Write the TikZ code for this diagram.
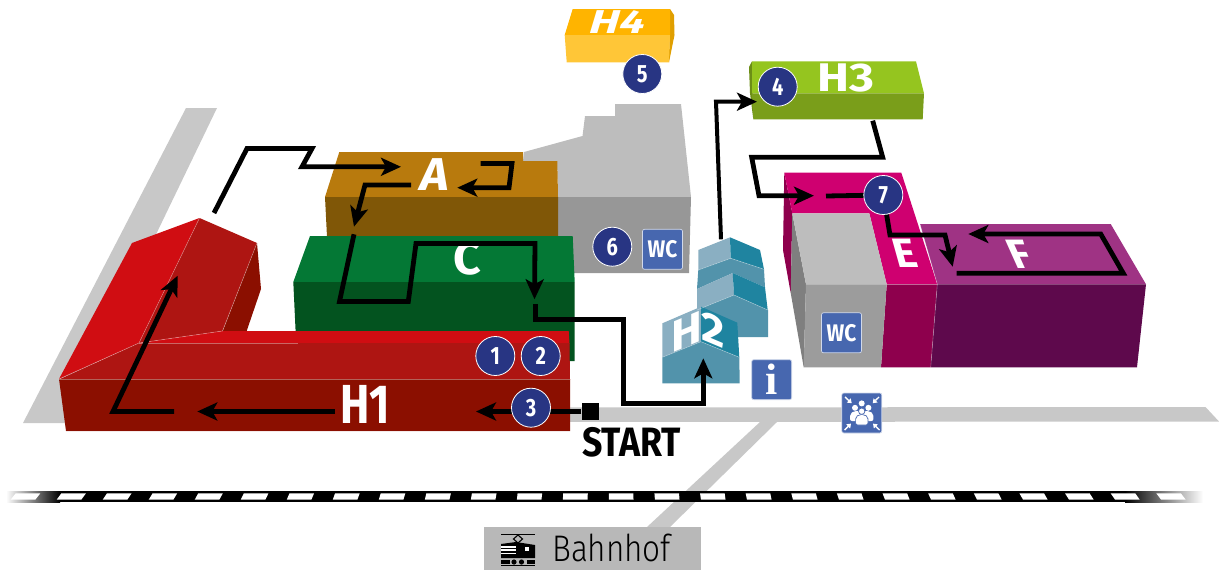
\documentclass[tikz,border=0pt]{standalone}
\usepackage{fontspec}
\usetikzlibrary{arrows.meta}
\newfontfamily\dinf{Fira Sans}[FakeStretch=0.8]
\newfontfamily\dinm{Fira Sans}[FakeStretch=0.87]
\newfontfamily\wfa{Fira Sans}[FakeStretch=1.05]
\newfontfamily\wfb{Fira Sans}[FakeStretch=1.2]
\newfontfamily\wfc{Fira Sans}[FakeStretch=1.35]
\newfontfamily\thinf{Fira Sans Light}[FakeStretch=0.85]
\newfontfamily\serifb{Liberation Serif}
\definecolor{road}{HTML}{C8C8C8}
\definecolor{grayT}{HTML}{BDBDBD}
\definecolor{grayF}{HTML}{979797}
\definecolor{grayG}{HTML}{9C9C9C}
\definecolor{grayS}{HTML}{7F7F7F}
\definecolor{brownT}{HTML}{B87A0D}
\definecolor{brownF}{HTML}{805707}
\definecolor{greenT}{HTML}{047835}
\definecolor{greenF}{HTML}{03531F}
\definecolor{redB}{HTML}{D00D12}
\definecolor{redM}{HTML}{AE1512}
\definecolor{redD}{HTML}{8B0F00}
\definecolor{yelT}{HTML}{FFB400}
\definecolor{yelF}{HTML}{FFC637}
\definecolor{yelS}{HTML}{E09F00}
\definecolor{limeT}{HTML}{95C51F}
\definecolor{limeF}{HTML}{7A9E1A}
\definecolor{limeS}{HTML}{6C8E16}
\definecolor{magT}{HTML}{CF0070}
\definecolor{magF}{HTML}{8E004D}
\definecolor{purT}{HTML}{9F3384}
\definecolor{purF}{HTML}{5E094C}
\definecolor{hLight}{HTML}{8AAFC2}
\definecolor{hTeal}{HTML}{1F84A0}
\definecolor{hMid}{HTML}{5293AB}
\definecolor{navy}{HTML}{283583}
\definecolor{signblue}{HTML}{4767AF}
\definecolor{station}{HTML}{B8B8B8}
\tikzset{
  routeplain/.style={line width=4.8pt,line join=miter,black},
  routetip/.style={routeplain,-{Stealth[length=20pt,width=18pt,inset=5pt]}},
  edgeline/.style={white,opacity=.35,line width=.6pt},
  badge/.style={circle,fill=navy,draw=white,line width=.8pt,minimum size=39pt,inner sep=0pt,text=white,font=\dinf\bfseries\fontsize{25}{25}\selectfont},
  sign/.style={rectangle,rounded corners=2pt,fill=signblue,draw=white!75!signblue,line width=.7pt,minimum size=40pt,inner sep=0pt,text=white},
  wclabel/.style={sign,font=\dinm\bfseries\fontsize{24}{24}\selectfont},
  hlabel/.style 2 args={inner sep=0pt,text=white,font=#1\bfseries\fontsize{#2}{#2}\selectfont},
}
\begin{document}
\begin{tikzpicture}[x=1pt,y=-1pt]
\useasboundingbox (0,0) rectangle (1219,570);
% roads
\fill[road] (186,108) -- (217,108) -- (65,423) -- (23,423) -- cycle;
\fill[road] (560,407.5) -- (1205.5,407) -- (1219,421.5) -- (560,422) -- cycle;
\fill[road] (760,422) -- (777,422) -- (670,527) -- (647,527) -- cycle;
% rail
\fill[black] (60,491) rectangle (1125,502);
\shade[left color=white,right color=black] (6,491) rectangle (60,502);
\shade[left color=black,right color=white] (1125,491) rectangle (1203,502);
\foreach \i in {0,...,25}{
  \pgfmathsetmacro{\xc}{25.5+45.82*\i}
  \pgfmathsetmacro{\sl}{(\xc-610)/600*2.6}
  \fill[white] ({\xc-12.3-\sl},493.3) -- ({\xc+12.3-\sl},493.3) -- ({\xc+12.3+\sl},499.7) -- ({\xc-12.3+\sl},499.7) -- cycle;
}
% station box
\fill[station] (484,526.5) rectangle (701,570);
\node[inner sep=0pt,anchor=base west,font=\thinf\fontsize{37}{37}\selectfont] (bahnhof) at (552,561) {Bahnhof};
% train icon
\draw[black,line width=1pt] (501,534.5) -- (535,534.5);
\draw[black,line width=1.1pt] (518,535) -- (522.5,539) -- (518,543) -- (513.5,539) -- cycle;
\fill[black] (516,542) -- (535,545) -- (535,558) -- (501,558) -- (501,544) -- cycle;
\foreach \yy in {546.2,549.4,552.6}{\fill[white] (501,\yy) rectangle (516,\yy+1.3);}
\fill[white] (525,547) rectangle (529,551);
\fill[black] (501,559.5) rectangle (510,564);
\fill[black] (527,559.5) rectangle (535,564);
\fill[black] (514,562) circle (2.6);
\fill[black] (521.5,562) circle (2.6);
\draw[black,line width=1pt] (501,565.8) -- (535,565.8);
% gray building 6
\fill[grayT] (524,152) -- (582.5,136) -- (585,116) -- (615,116) -- (615,104) -- (681,104) -- (691,197) -- (558,197) -- (557,161) -- (523,161) -- cycle;
\fill[grayF] (558,197) -- (691,197) -- (689,273) -- (558,273) -- cycle;
% A
\fill[brownT] (339.3,152) -- (523,152) -- (523,161) -- (557.3,161) -- (558,197) -- (325,197) -- cycle;
\fill[brownF] (325,197) -- (558,197) -- (558,237) -- (327,237) -- cycle;
% C
\fill[greenT] (310,236) -- (572.7,236) -- (574.7,282) -- (293.3,282) -- cycle;
\fill[greenF] (293.3,282) -- (574.7,282) -- (574.7,361) -- (297,361) -- cycle;
% H1
\fill[redB] (59,379) -- (139,343) -- (199.5,218) -- (132,243) -- cycle;
\fill[redM] (139,343) -- (222.5,331) -- (257,243) -- (199.5,218) -- cycle;
\fill[redD] (257,243) -- (261,289) -- (246.5,331.5) -- (222.5,331.5) -- cycle;
\fill[redB] (139,343) -- (222.5,331) -- (568.7,331) -- (569.5,343.5) -- cycle;
\fill[redM] (139,343) -- (569.5,343) -- (570,379.5) -- (59,379.5) -- cycle;
\fill[redD] (59,379) -- (570,379) -- (570,431) -- (66,431) -- cycle;
\draw[edgeline] (139,343) -- (199.5,218);
\draw[edgeline] (222.5,331) -- (257,243);
\draw[edgeline] (59,379) -- (139,343) -- (222.5,331);
\draw[edgeline] (139,343) -- (298,343);
\draw[edgeline] (59,379) -- (570,379);
\draw[edgeline] (66,431) -- (570,431);
% H4
\fill[yelS] (670,9) -- (674,15) -- (674.5,35) -- (669,62.3) -- cycle;
\fill[yelT] (572.7,9) -- (670,9) -- (670,35) -- (564.7,35) -- cycle;
\fill[yelF] (564.7,35) -- (670,35) -- (669,62.3) -- (566.7,62.3) -- cycle;
% H3
\fill[limeS] (752,61.3) -- (749,67) -- (750,93) -- (753.3,119.3) -- cycle;
\fill[limeT] (752,61.3) -- (916,61.3) -- (924,93.3) -- (752,93.3) -- cycle;
\fill[limeF] (752,93.3) -- (924,93.3) -- (922.7,119.3) -- (753.3,119.3) -- cycle;
% E
\fill[magF] (784.3,172.7) -- (783,250) -- (790.7,293) -- (792.3,213.3) -- cycle;
\fill[magT] (784.3,172.7) -- (901.3,172.7) -- (937.3,284.3) -- (886.7,284.3) -- (869.3,213.3) -- (792.3,213.3) -- cycle;
\fill[magF] (886.7,284.3) -- (937.3,284.3) -- (930.7,367.3) -- (881,367.3) -- cycle;
% WC building
\fill[grayS] (792.3,213.3) -- (806,284.3) -- (803.7,367.3) -- (790.7,293) -- cycle;
\fill[grayT] (792.3,213.3) -- (869.3,213.3) -- (886.7,284.3) -- (806,284.3) -- cycle;
\fill[grayG] (806,284.3) -- (886.7,284.3) -- (881,367.3) -- (803.7,367.3) -- cycle;
% F
\fill[purT] (920,224) -- (1110.7,224) -- (1146,284.3) -- (937.3,284.3) -- cycle;
\fill[purF] (937.3,284.3) -- (1146,284.3) -- (1137,367.3) -- (930.7,367.3) -- cycle;
\draw[edgeline] (886.7,284.3) -- (937.3,284.3) -- (930.7,367.3);
\draw[edgeline] (920,224) -- (937.3,284.3);
% H2
\fill[hLight] (698.3,250) -- (730,237.3) -- (730.7,258.3) -- (698.3,270) -- cycle;
\fill[hTeal] (730,237.3) -- (760,250) -- (764,269.3) -- (730.7,258.3) -- cycle;
\fill[hMid] (698.3,270) -- (730.7,258.3) -- (764,269.3) -- (765,287.3) -- (732.7,273) -- (697,289) -- cycle;
\fill[hLight] (697,289) -- (732.7,273) -- (734,295) -- (697,310) -- cycle;
\fill[hTeal] (732.7,273) -- (765,287.3) -- (767.7,310) -- (734,295) -- cycle;
\fill[hMid] (697,310) -- (734,295) -- (768,310) -- (768,337) -- (730,337) -- (697,320) -- cycle;
\fill[hLight] (662.3,323.3) -- (701,306.7) -- (701,341.7) -- (662.3,357.3) -- cycle;
\fill[hTeal] (701,306.7) -- (737.3,322.7) -- (739.3,357.3) -- (701,341.7) -- cycle;
\fill[hMid] (662.3,357.3) -- (701,341.7) -- (739.3,357.3) -- (739.7,383.3) -- (662.3,383.3) -- cycle;
\draw[edgeline] (698.3,270) -- (730.7,258.3) -- (764,269.3);
\draw[edgeline] (697,310) -- (734,295) -- (767.7,310);
\draw[edgeline] (662.3,357.3) -- (701,341.7) -- (739.3,357.3);
% building labels
\node[hlabel={\dinf}{55}] (lH1) at (365,404.5) {H1};
\node[hlabel={\wfa}{46},shift={(435,174.5)},xslant=.15,transform shape] (lA) at (0,0) {A};
\node[hlabel={\wfa}{46}] (lC) at (467,259) {C};
\node[hlabel={\wfc}{33},shift={(618.5,22)},xslant=.3,transform shape] (lH4) at (0,0) {H4};
\node[hlabel={\wfb}{40},] (lH3) at (846,77.5) {H3};
\node[hlabel={\wfa}{41},shift={(905,253.5)},xslant=-.28,transform shape] (lE) at (0,0) {E};
\node[hlabel={\wfa}{41},shift={(1020,254)},xslant=-.45,transform shape] (lF) at (0,0) {F};
\node[hlabel={\wfa}{44},shift={(687,331.5)},yslant=.42,transform shape] (lH2a) at (0,0) {H};
\node[hlabel={\wfa}{43},shift={(713,330)},yslant=-.42,transform shape] (lH2b) at (0,0) {2};
\node[inner sep=0pt,anchor=base west,text=black,font=\dinm\bfseries\fontsize{41}{41}\selectfont] (lstart) at (582,456.5) {START};
% signs
\node[wclabel] (wc1) at (662.5,249.3) {WC};
\node[wclabel] (wc2) at (841.5,332.8) {WC};
\node[sign,font=\serifb\bfseries\fontsize{44}{44}\selectfont] (info) at (771.7,379.7) {i};
\node[sign] (assembly) at (861.8,413) {};
% assembly icon
\fill[white] (861.7,403.4) circle (3);
\fill[white] (855,407.8) circle (3);
\fill[white] (868.4,407.8) circle (3);
\fill[white,rounded corners=2pt] (850,421) -- (850,414) -- (854,411) -- (869.5,411) -- (873.4,414) -- (873.4,421) -- cycle;
\fill[white,draw=signblue,line width=.7pt] (861.7,411.2) circle (3.2);
\fill[white,draw=signblue,line width=.7pt,rounded corners=2pt] (855.6,425) -- (855.6,417) -- (859,414.6) -- (864.4,414.6) -- (868,417) -- (868,425) -- cycle;
\foreach \ax/\ay/\bx/\by in {845/397/851.7/403.2, 879/397/872.7/403.2, 844.5/430/851/423.6, 879.5/430/873/423.6}
  \draw[white,line width=1.4pt,-{Triangle[length=4pt,width=5.5pt]}] (\ax,\ay) -- (\bx,\by);
% route way points
\node[fill=black,minimum size=17pt,inner sep=0pt] (start) at (590,411.5) {};
\coordinate (t3) at (476,411.5);
\coordinate (h1a) at (334.5,411.5);
\coordinate (h1b) at (197.3,411.5);
\coordinate (h1c) at (174,411.5);
\coordinate (h1d) at (113,411.5);
\coordinate (h1e) at (177.7,275.7);
\coordinate (oa) at (214,213);
\coordinate (ob) at (247,148.5);
\coordinate (oc) at (312,148.5);
\coordinate (od) at (302,166.8);
\coordinate (oe) at (401,166.8);
\coordinate (aa) at (480.7,163.5);
\coordinate (ab) at (512,163.5);
\coordinate (ac) at (509,187.7);
\coordinate (ad) at (457.3,187.7);
\coordinate (ae) at (411,185);
\coordinate (af) at (365,185);
\coordinate (ag) at (354,226.7);
\coordinate (ca) at (354,234.3);
\coordinate (cb) at (339.5,301.5);
\coordinate (cc) at (408.3,301.5);
\coordinate (cd) at (416,243.5);
\coordinate (ce) at (535,243.5);
\coordinate (cf) at (534.5,299.3);
\coordinate (da) at (535.3,304);
\coordinate (db) at (535.3,319.3);
\coordinate (dc) at (623.3,319.3);
\coordinate (dd) at (623.3,403.5);
\coordinate (de) at (703.3,403.5);
\coordinate (df) at (703.3,358.3);
\coordinate (ea) at (721,239.3);
\coordinate (eb) at (716,101.7);
\coordinate (ec) at (757,101.7);
\coordinate (fa) at (872.7,120.7);
\coordinate (fb) at (882.7,157.3);
\coordinate (fc) at (751.7,157.3);
\coordinate (fd) at (759,195.7);
\coordinate (fe) at (814,195.7);
\coordinate (ga) at (826,196);
\coordinate (g7) at (883.3,195);
\coordinate (gb) at (890,235);
\coordinate (gc) at (945,235);
\coordinate (gd) at (952.7,266.7);
\coordinate (ha) at (956.7,273.3);
\coordinate (hb) at (1123.3,273.3);
\coordinate (hc) at (1100.7,234);
\coordinate (hd) at (968.3,234);
% routes
\draw[routetip] (start) -- (t3);
\draw[routetip] (h1a) -- (h1b);
\draw[routetip] (h1c) -- (h1d) -- (h1e);
\draw[routetip] (oa) -- (ob) -- (oc) -- (od) -- (oe);
\draw[routetip] (aa) -- (ab) -- (ac) -- (ad);
\draw[routetip] (ae) -- (af) -- (ag);
\draw[routetip] (ca) -- (cb) -- (cc) -- (cd) -- (ce) -- (cf);
\draw[routetip] (da) -- (db) -- (dc) -- (dd) -- (de) -- (df);
\draw[routetip,line width=4pt] (ea) -- (eb) -- (ec);
\draw[routetip] (fa) -- (fb) -- (fc) -- (fd) -- (fe);
\draw[routeplain] (ga) -- (g7);
\draw[routetip] (g7) -- (gb) -- (gc) -- (gd);
\draw[routetip] (ha) -- (hb) -- (hc) -- (hd);
% badges
\node[badge] (n1) at (495.3,356) {1};
\node[badge] (n2) at (540.7,356) {2};
\node[badge] (n3) at (531,407.7) {3};
\node[badge] (n4) at (777.7,86.7) {4};
\node[badge] (n5) at (642.3,74) {5};
\node[badge] (n6) at (612.3,246.7) {6};
\node[badge] (n7) at (883.3,195) {7};
\end{tikzpicture}
\end{document}
